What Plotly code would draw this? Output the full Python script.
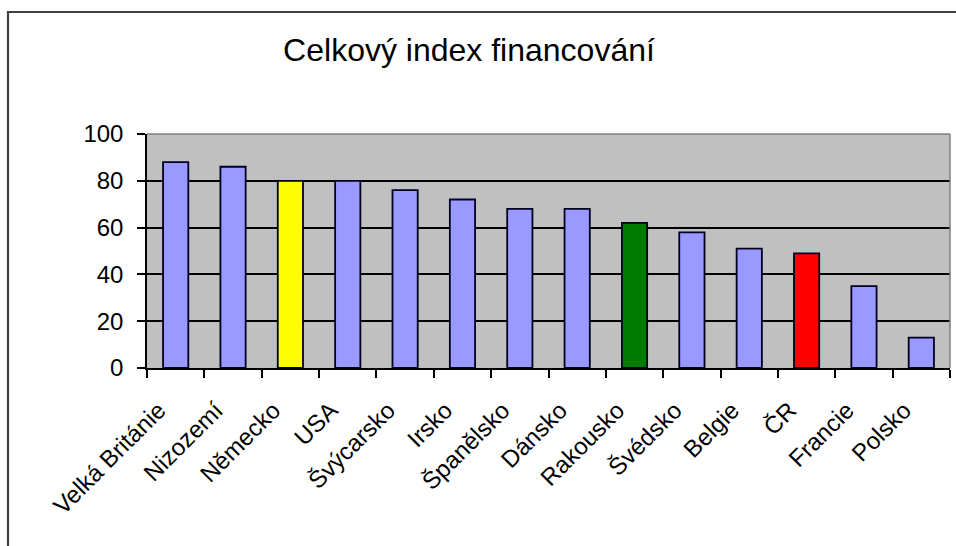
import plotly.graph_objects as go

# Country categories and overall funding index values
countries = ["Velká Británie", "Nizozemí", "Německo", "USA", "Švýcarsko", "Irsko",
             "Španělsko", "Dánsko", "Rakousko", "Švédsko", "Belgie", "ČR",
             "Francie", "Polsko"]
index_values = [88, 86, 80, 80, 76, 72, 68, 68, 62, 58, 51, 49, 35, 13]
bar_colors = ["#9999FF", "#9999FF", "#FFFF00", "#9999FF", "#9999FF", "#9999FF",
              "#9999FF", "#9999FF", "#007A00", "#9999FF", "#9999FF", "#FF0000",
              "#9999FF", "#9999FF"]
y_ticks = [0, 20, 40, 60, 80, 100]

FONT = "Liberation Sans, Arial, sans-serif"

fig = go.Figure(
    go.Bar(
        x=countries,
        y=index_values,
        marker=dict(color=bar_colors, line=dict(color="#000020", width=1.8)),
        hoverinfo="x+y",
    )
)

fig.update_layout(
    width=956,
    height=546,
    margin=dict(l=147, r=6, t=134, b=178),
    paper_bgcolor="white",
    plot_bgcolor="#C0C0C0",
    bargap=0.56,
    showlegend=False,
    title=dict(
        text="Celkový index financování",
        x=469 / 956, xref="container", xanchor="center",
        y=1 - 50 / 546, yref="container", yanchor="middle",
        font=dict(family=FONT, size=32, color="black"),
    ),
    font=dict(family=FONT, color="black"),
)

fig.update_xaxes(
    type="category",
    tickangle=-45,
    tickson="boundaries",
    ticks="outside",
    ticklen=8,
    tickwidth=1.5,
    tickcolor="black",
    showline=True,
    linecolor="black",
    linewidth=1.5,
    showgrid=False,
    tickfont=dict(family=FONT, size=24, color="black"),
    ticklabelstandoff=17,
    ticklabelshift=-17,
)

fig.update_yaxes(
    range=[0, 100],
    tickvals=y_ticks,
    ticks="outside",
    ticklen=8,
    tickwidth=1.5,
    tickcolor="black",
    showline=True,
    linecolor="black",
    linewidth=1.5,
    showgrid=True,
    gridcolor="black",
    gridwidth=1.5,
    zeroline=False,
    tickfont=dict(family=FONT, size=24, color="black"),
    ticklabelstandoff=9,
)

# plot area frame (top/right edges) and outer chart border
fig.add_shape(type="line", xref="paper", yref="paper", x0=0, x1=1, y0=1, y1=1,
              line=dict(color="#808080", width=1.5))
fig.add_shape(type="line", xref="paper", yref="paper", x0=1, x1=1, y0=0, y1=1,
              line=dict(color="#808080", width=1.5))
fig.add_shape(type="rect", xref="paper", yref="paper",
              x0=(8 - 147) / 803, x1=1.02, y0=(368 - 12) / 234, y1=-0.8,
              line=dict(color="#404040", width=2.2), layer="below")

fig.write_html("out.html")
